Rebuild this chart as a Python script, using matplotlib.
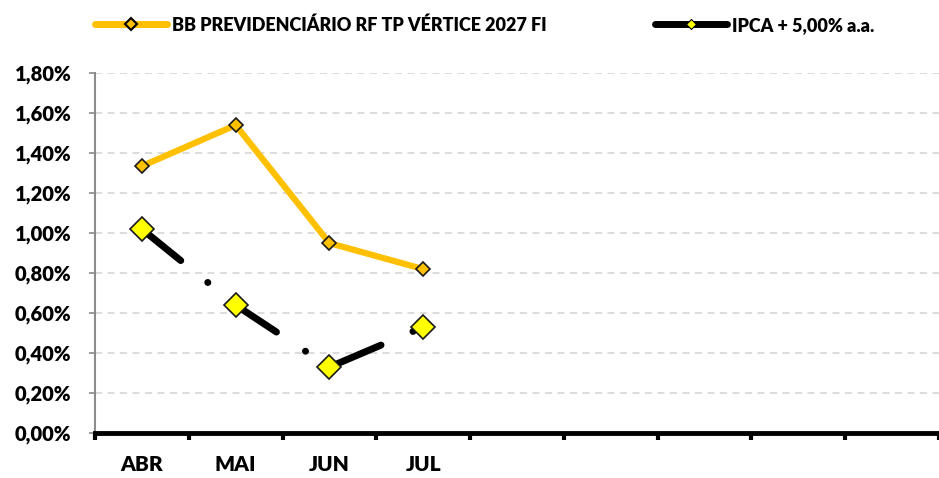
import numpy as np
import matplotlib.pyplot as plt
from matplotlib.lines import Line2D
from matplotlib.ticker import FuncFormatter

plt.rcParams['font.family'] = ['Lato', 'DejaVu Sans']
plt.rcParams['font.weight'] = 'heavy'
plt.rcParams['lines.scale_dashes'] = False

# data
months = ['ABR', 'MAI', 'JUN', 'JUL', '', '', '', '', '']
fund_name = 'BB PREVIDENCIÁRIO RF TP VÉRTICE 2027 FI'
bench_name = 'IPCA + 5,00% a.a.'
fund_vals = [1.335, 1.54, 0.95, 0.82]
bench_vals = [1.02, 0.64, 0.33, 0.53]
y_ticks = [0.0, 0.2, 0.4, 0.6, 0.8, 1.0, 1.2, 1.4, 1.6, 1.8]

orange = '#FFC000'
yellow = '#FFFF00'

fig = plt.figure(figsize=(9.39, 4.78), dpi=100)
ax = fig.add_axes([0.1012, 0.094, 0.8988, 0.753])

x_f = np.arange(len(fund_vals))
x_b = np.arange(len(bench_vals))

ax.plot(x_f, fund_vals, color=orange, lw=4.5, solid_joinstyle='miter',
        marker='D', ms=7, mfc=orange, mec='#1a1a1a', mew=1.2, zorder=3)
ax.plot(x_b, bench_vals, color='black', lw=5, dashes=(36, 25, 0.1, 25),
        dash_capstyle='round', marker='D', ms=12, mfc=yellow, mec='#1a1a1a',
        mew=1.2, zorder=4)

ax.set_xlim(-0.5, len(months) - 0.5)
ax.set_ylim(0, 1.8)
ax.set_yticks(y_ticks)
ax.yaxis.set_major_formatter(FuncFormatter(lambda v, p: f'{v:.2f}%'.replace('.', ',')))
ax.grid(axis='y', color='#d9d9d9', ls=(0, (5, 4)), lw=1.3)
ax.set_axisbelow(True)

# category boundaries as ticks, labels at centres
ax.set_xticks(np.arange(len(months) + 1) - 0.5)
ax.set_xticklabels([])
ax.set_xticks(np.arange(len(months)), minor=True)
ax.set_xticklabels(months, minor=True, fontsize=15, fontweight='heavy')
ax.tick_params(axis='x', which='major', length=5, width=3, color='black', direction='out')
ax.tick_params(axis='x', which='minor', length=0, pad=16)
ax.tick_params(axis='y', length=4, width=1.2, color='#888888', pad=13, labelsize=14.5)

for s in ['top', 'right']:
    ax.spines[s].set_visible(False)
ax.spines['left'].set_color('#8c8c8c')
ax.spines['left'].set_linewidth(1.5)
ax.spines['bottom'].set_color('black')
ax.spines['bottom'].set_linewidth(3.5)
ax.spines['bottom'].set_zorder(5)

h1 = Line2D([], [], color=orange, lw=5, solid_capstyle='round', marker='D',
            ms=6, mfc=orange, mec='black', mew=1.5)
h2 = Line2D([], [], color='black', lw=5, solid_capstyle='round', marker='D',
            ms=5, mfc=yellow, mec='black', mew=0.8)
fig.legend([h1, h2], [fund_name, bench_name], ncol=2, frameon=False,
           loc='upper left', bbox_to_anchor=(0.084, 1.0), fontsize=13,
           handlelength=4.0, handletextpad=0.25, columnspacing=6.0)

fig.savefig('out.png', dpi=100)
